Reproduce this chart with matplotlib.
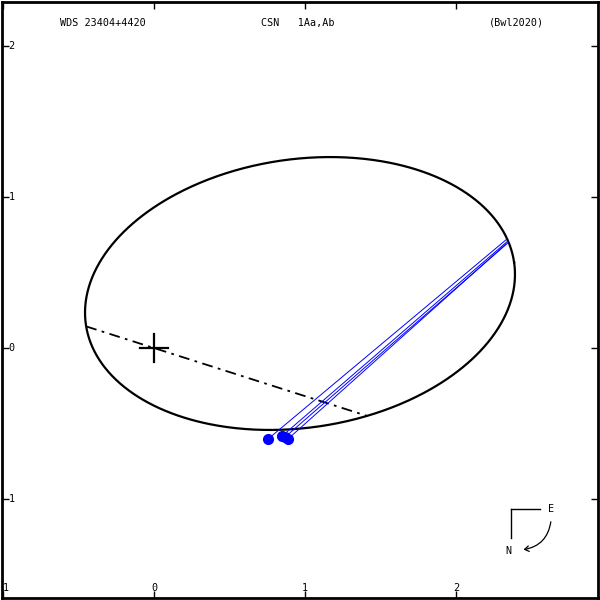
import numpy as np
import matplotlib
matplotlib.use("Agg")
import matplotlib.pyplot as plt
from matplotlib.patches import FancyArrowPatch

# ---- data (arcsec) ----
title_left = "WDS 23404+4420"
title_mid = "CSN   1Aa,Ab"
title_right = "(Bwl2020)"

x_ticks = [-1, 0, 1, 2]
x_tick_labels = ["1", "0", "1", "2"]
y_ticks = [2, 1, 0, -1]
y_tick_labels = ["2", "1", "0", "1"]

# apparent orbit ellipse
orb_cx, orb_cy = 0.967, 0.361
orb_a, orb_b = 1.433, 0.889
orb_theta_deg = 8.3
node_angle_deg = -17.67

# observations and predicted positions
obs_x = [0.755, 0.848, 0.868, 0.887]
obs_y = [-0.603, -0.583, -0.590, -0.603]
pred_x = [2.338, 2.344, 2.344, 2.331]
pred_y = [0.722, 0.709, 0.696, 0.689]

xlim = (-1.004, 2.938)
ylim = (-1.653, 2.289)

fig = plt.figure(figsize=(6, 6), dpi=100)
ax = fig.add_axes([0.004, 0.004, 0.992, 0.992])
ax.set_xlim(*xlim)
ax.set_ylim(*ylim)
for s in ax.spines.values():
    s.set_linewidth(2)
ax.set_xticks(x_ticks)
ax.set_yticks(y_ticks)
ax.tick_params(direction="in", length=5, width=1, top=True, right=True,
               labelbottom=False, labelleft=False)

font = dict(family="DejaVu Sans Mono", fontsize=7.3, color="black")
# tick labels drawn inside
for xt, lab in zip(x_ticks, x_tick_labels):
    ax.annotate(lab, (xt, 0), xycoords=("data", "axes fraction"),
                xytext=(0, 10), textcoords="offset pixels",
                ha="center" if xt != x_ticks[0] else "left", va="center", **font)
for yt, lab in zip(y_ticks, y_tick_labels):
    ax.annotate(lab, (0, yt), xycoords=("axes fraction", "data"),
                xytext=(6, 0), textcoords="offset pixels",
                ha="left", va="center", **font)

# titles
ax.text(0.0965, 0.9655, title_left, transform=ax.transAxes, ha="left", va="center", **font)
ax.text(0.4345, 0.9655, title_mid, transform=ax.transAxes, ha="left", va="center", **font)
ax.text(0.8165, 0.9655, title_right, transform=ax.transAxes, ha="left", va="center", **font)

# orbit ellipse
t = np.linspace(0, 2 * np.pi, 721)
th = np.radians(orb_theta_deg)
ex = orb_cx + orb_a * np.cos(t) * np.cos(th) - orb_b * np.sin(t) * np.sin(th)
ey = orb_cy + orb_a * np.cos(t) * np.sin(th) + orb_b * np.sin(t) * np.cos(th)
ax.plot(ex, ey, color="black", lw=1.6)

# line of nodes: intersections of line through origin with ellipse
phi = np.radians(node_angle_deg)
d = np.array([np.cos(phi), np.sin(phi)])
def in_ell(p):
    dx, dy = p[0] - orb_cx, p[1] - orb_cy
    u = dx * np.cos(th) + dy * np.sin(th)
    v = -dx * np.sin(th) + dy * np.cos(th)
    return (u / orb_a) ** 2 + (v / orb_b) ** 2
def root(sign):
    lo, hi = 0.0, 5.0
    for _ in range(60):
        mid = (lo + hi) / 2
        if in_ell(sign * mid * d) < 1:
            lo = mid
        else:
            hi = mid
    return sign * lo * d
p1, p2 = root(-1), root(1)
ax.plot([p1[0], p2[0]], [p1[1], p2[1]], color="black", lw=1.3,
        linestyle=(0, (6, 3, 1.5, 3)))

# primary cross
ax.plot([-0.095, 0.095], [0, 0], color="black", lw=1.6)
ax.plot([0, 0], [-0.095, 0.095], color="black", lw=1.6)

# O-C lines and observations
for ox, oy, px_, py_ in zip(obs_x, obs_y, pred_x, pred_y):
    ax.plot([ox, px_], [oy, py_], color="#0000ff", lw=0.7)
ax.plot(obs_x, obs_y, "o", color="#0000ff", ms=7, mec="#0000ff")

# compass
ax.plot([0.854, 0.903], [0.149, 0.149], transform=ax.transAxes, color="black", lw=1)
ax.plot([0.854, 0.854], [0.149, 0.100], transform=ax.transAxes, color="black", lw=1)
ax.text(0.921, 0.149, "E", transform=ax.transAxes, ha="center", va="center", **font)
ax.text(0.850, 0.0783, "N", transform=ax.transAxes, ha="center", va="center", **font)
arr = FancyArrowPatch((0.922, 0.132), (0.871, 0.080), transform=ax.transAxes,
                      connectionstyle="arc3,rad=-0.4", arrowstyle="->,head_length=3,head_width=2",
                      color="black", lw=0.9)
ax.add_patch(arr)

fig.savefig("out.png", dpi=100)
